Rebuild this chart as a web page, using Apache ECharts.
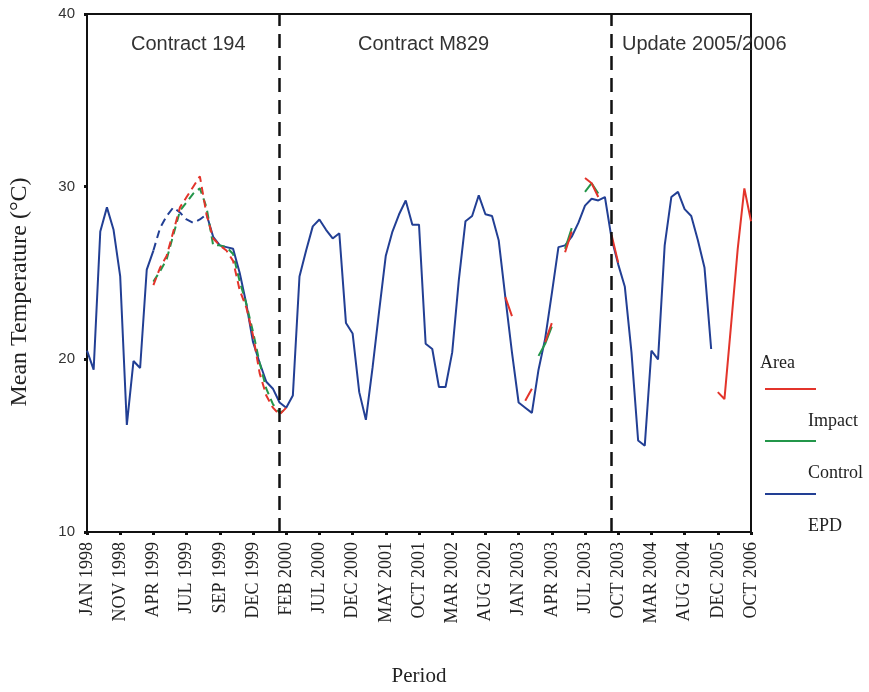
<!DOCTYPE html>
<html><head><meta charset="utf-8">
<script src="https://cdn.jsdelivr.net/npm/echarts@6/dist/echarts.min.js"></script>
<style>html,body{margin:0;padding:0;background:#fff}#c{width:869px;height:692px}</style>
</head><body><div id="c"></div>
<script>
const N = null;
// x-axis tick labels (one every 5 sampling events)
const tickLabels = ['JAN 1998','NOV 1998','APR 1999','JUL 1999','SEP 1999','DEC 1999','FEB 2000','JUL 2000','DEC 2000','MAY 2001','OCT 2001','MAR 2002','AUG 2002','JAN 2003','APR 2003','JUL 2003','OCT 2003','MAR 2004','AUG 2004','DEC 2005','OCT 2006'];
const periodLabels = ['Contract 194','Contract M829','Update 2005/2006'];
const periodBreaks = [29, 79];
// sampling events (categories)
const samples = Array.from({length: 101}, (_, i) => String(i + 1));

// EPD (blue), continuous parts
const epd = [20.5,19.4,27.4,28.8,27.5,24.8,16.2,19.9,19.5,25.2,26.3,
  N,N,N,N,N,N,N,
  28.4,27.1,26.6,26.5,26.4,25.0,23.2,21.0,19.8,18.7,18.3,17.5,
  17.2,17.9,24.8,26.3,27.7,28.1,27.5,27.0,27.3,22.1,
  21.5,18.1,16.5,19.5,22.8,26.0,27.4,28.4,29.2,27.8,
  27.8,20.9,20.6,18.4,18.4,20.4,24.6,28.0,28.3,29.5,
  28.4,28.3,26.9,23.6,20.4,17.5,17.2,16.9,19.4,21.2,
  23.8,26.5,26.6,27.1,27.9,28.9,29.3,29.2,29.4,27.0,
  25.5,24.2,20.4,15.3,15.0,20.5,20.0,26.6,29.4,29.7,
  28.7,28.3,26.9,25.3,20.6,
  N,N,N,N,N,N];
// EPD (blue), broken part
const epdBroken = [N,N,N,N,N,N,N,N,N,N,
  26.3,27.6,28.3,28.8,28.5,28.1,27.9,28.1,28.4,
  ...Array(82).fill(N)];
// Impact (red)
const impact = [...Array(63).fill(N),
  23.6,22.5,N,17.6,18.3,N,21.0,22.1,N,26.2,27.4,N,30.5,30.2,29.4,N,27.2,25.6,
  ...Array(14).fill(N),
  18.1,17.7,22.0,26.4,29.9,28.0];
const impactBroken = [...Array(10).fill(N),
  24.3,25.3,26.0,27.4,28.8,29.4,30.0,30.6,28.4,27.0,26.6,26.3,25.7,24.0,23.0,21.4,19.2,17.9,17.2,16.8,17.2,
  ...Array(70).fill(N)];
// Control (green)
const control = [...Array(68).fill(N),
  20.2,20.9,21.9,N,26.4,27.6,N,29.7,30.2,29.6,
  ...Array(23).fill(N)];
const controlBroken = [...Array(10).fill(N),
  24.5,25.1,25.8,27.2,28.6,29.1,29.6,29.9,28.8,26.6,26.6,26.5,26.1,24.5,23.2,21.6,19.8,18.3,17.4,16.9,17.1,
  ...Array(70).fill(N)];

const BLUE = '#223f94', RED = '#e3342b', GREEN = '#23964a';
const serif = 'Liberation Serif, Times New Roman, serif';
const sans = 'Liberation Sans, Arial, sans-serif';

function legendFor(name, top) {
  return {
    data: [{name: name, icon: 'rect'}], left: 765, top: top, padding: 0, orient: 'vertical',
    itemWidth: 51, itemHeight: 2, selectedMode: false,
    formatter: n => '\n\n' + n,
    textStyle: {fontFamily: serif, fontSize: 18, color: '#222', lineHeight: 32, padding: [0, 0, 0, -13]}
  };
}
function line(name, data, color, dashed, z) {
  return {
    name, type: 'line', data, symbol: 'none', z: z, connectNulls: false,
    lineStyle: {color, width: 2, type: dashed ? [8, 5] : 'solid'}, itemStyle: {color}
  };
}

const chart = echarts.init(document.getElementById('c'), null, {renderer: 'canvas'});
chart.setOption({
  animation: false,
  backgroundColor: '#fff',
  title: [
    {text: periodLabels[0], left: 131, top: 34, padding: 0, textStyle: {fontFamily: sans, fontSize: 20, fontWeight: 'normal', color: '#333'}},
    {text: periodLabels[1], left: 358, top: 34, padding: 0, textStyle: {fontFamily: sans, fontSize: 20, fontWeight: 'normal', color: '#333'}},
    {text: periodLabels[2], left: 622, top: 34, padding: 0, textStyle: {fontFamily: sans, fontSize: 20, fontWeight: 'normal', color: '#333'}},
    {text: 'Area', left: 760, top: 354, padding: 0, textStyle: {fontFamily: serif, fontSize: 18, fontWeight: 'normal', color: '#222'}}
  ],
  legend: [legendFor('Impact', 341), legendFor('Control', 393), legendFor('EPD', 446)],
  grid: {left: 87, right: 118, top: 14, bottom: 158, show: true, borderColor: '#111', borderWidth: 2},
  xAxis: {
    type: 'category', data: samples, boundaryGap: false,
    name: 'Period', nameLocation: 'middle', nameGap: 134,
    nameTextStyle: {fontFamily: serif, fontSize: 21, color: '#222'},
    axisLine: {lineStyle: {color: '#111', width: 2}},
    axisTick: {show: true, interval: 4, length: 3, lineStyle: {color: '#111', width: 3}},
    axisLabel: {interval: 4, rotate: 90, margin: 10, fontFamily: serif, fontSize: 18, color: '#222',
      formatter: (v, i) => (i % 5 === 0 ? tickLabels[i / 5] : '')},
    splitLine: {show: false}
  },
  yAxis: {
    type: 'value', min: 10, max: 40, interval: 10,
    name: 'Mean Temperature (°C)', nameLocation: 'middle', nameGap: 55,
    nameTextStyle: {fontFamily: serif, fontSize: 24, color: '#222', padding: [0, 38, 0, 0]},
    axisLine: {show: true, lineStyle: {color: '#111', width: 2}},
    axisTick: {show: true, length: 3, lineStyle: {color: '#111', width: 3}},
    axisLabel: {margin: 12, fontFamily: sans, fontSize: 15, color: '#333'},
    splitLine: {show: false}
  },
  series: [
    Object.assign(line('EPD', epd, BLUE, false, 2), {
      markLine: {
        silent: true, symbol: 'none', label: {show: false},
        lineStyle: {color: '#111', width: 2.5, type: [14, 8]},
        data: periodBreaks.map(b => ({xAxis: b}))
      }
    }),
    line('EPD', epdBroken, BLUE, true, 2),
    line('Control', control, GREEN, false, 3),
    line('Control', controlBroken, GREEN, true, 3),
    line('Impact', impact, RED, false, 4),
    line('Impact', impactBroken, RED, true, 4)
  ]
});
</script></body></html>
